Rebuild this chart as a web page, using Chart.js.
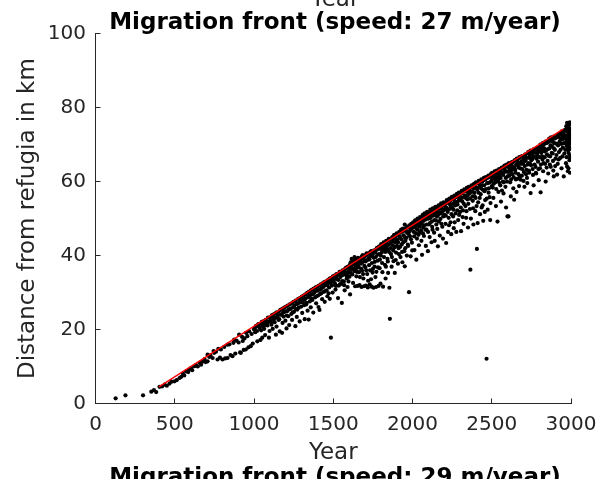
<!DOCTYPE html>
<html>
<head>
<meta charset="utf-8">
<script src="https://cdn.jsdelivr.net/npm/chart.js@4.4.1/dist/chart.umd.min.js"></script>
<style>
  body { margin: 0; background: #fff; }
  #wrap { position: relative; width: 611px; height: 479px; overflow: hidden; }
  .txt { position: absolute; left: 0; width: 670px; text-align: center; font-family: "DejaVu Sans", sans-serif;
         font-size: 23px; line-height: 23px; white-space: nowrap; }
  #prevLabel { top: -13.5px; color: #262626; }
  #title { top: 10px; font-weight: bold; color: #000; }
  #nextTitle { top: 465px; font-weight: bold; color: #000; }
</style>
</head>
<body>
<div id="wrap">
  <canvas id="frontChart"></canvas>
  <div class="txt" id="prevLabel">Year</div>
  <div class="txt" id="title">Migration front (speed: 27 m/year)</div>
  <div class="txt" id="nextTitle">Migration front (speed: 29 m/year)</div>
</div>
<script>
// assi
const xTicks = [0, 500, 1000, 1500, 2000, 2500, 3000];
const yTicks = [0, 20, 40, 60, 80, 100];

// retta della velocità del fronte (27 m/anno)
const fitYears = [400, 2950];
const fitKm = [4.5, 74.2];

// punti del fronte, letti a occhio dal grafico, [anno, km]
const front0to1000 = [
  [127,1.4],[189,2.2],[300,2.2],[352,3.2],[369,3.6],[383,3.1],[404,4.5],[420,4.6],[436,5.1],[450,4.8],
  [467,5.4],[480,5.9],[498,6.0],[512,6.3],[530,6.9],[541,7.2],[551,8.1],[560,7.6],[572,8.7],[585,8.5],
  [590,9.2],[603,9.6],[610,9.0],[624,10.1],[635,10.4],[645,10.0],[658,11.0],[666,10.5],[675,11.3],[688,12.0],
  [695,11.2],[707,11.4],[707,13.2],[718,12.6],[725,13.0],[739,12.3],[745,14.2],[749,13.7],[760,14.0],[770,11.9],
  [775,14.8],[785,12.4],[791,14.6],[801,11.9],[812,15.3],[818,12.2],[833,12.3],[833,15.9],[845,16.0],[852,13.1],
  [864,12.8],[870,16.4],[875,17.3],[882,13.5],[890,17.0],[903,16.5],[906,18.6],[912,13.8],[917,13.7],[925,18.0],
  [929,16.9],[935,14.5],[940,17.6],[948,14.6],[950,19.1],[958,18.2],[965,15.2],[970,19.5],[979,15.5],[985,18.8],
  [992,16.2],[1000,20.0]
];
const front1000to1500 = [
  [1008,19.3],[1015,20.8],[1021,16.8],[1031,20.9],[1041,17.2],[1045,19.8],[1052,17.8],[1058,21.5],[1064,20.2],[1070,18.5],
  [1078,22.0],[1085,21.1],[1094,17.8],[1098,19.6],[1105,22.5],[1110,21.3],[1118,20.2],[1125,23.2],[1130,22.0],[1138,18.6],
  [1142,20.8],[1150,23.7],[1155,22.6],[1162,19.5],[1170,24.1],[1177,19.1],[1180,21.8],[1186,23.5],[1192,24.8],[1198,22.4],
  [1205,20.3],[1210,25.0],[1216,23.6],[1222,21.2],[1228,25.6],[1235,24.2],[1240,22.6],[1246,26.0],[1252,24.8],[1261,20.9],
  [1265,25.5],[1270,23.4],[1276,27.0],[1282,25.9],[1288,22.2],[1293,27.4],[1298,26.2],[1304,24.5],[1310,28.0],[1316,26.6],
  [1320,22.8],[1326,28.4],[1332,27.2],[1338,25.1],[1345,22.7],[1348,28.9],[1352,27.6],[1358,26.0],[1364,29.5],[1368,28.0],
  [1374,24.6],[1380,30.0],[1386,28.7],[1392,27.1],[1398,30.5],[1404,29.2],[1407,26.1],[1413,25.3],[1418,30.8],[1424,29.8],
  [1430,28.2],[1436,31.5],[1440,30.2],[1446,27.5],[1452,32.0],[1458,30.6],[1463,29.0],[1468,32.6],[1474,31.4],[1478,28.3],
  [1485,17.8],[1488,33.2],[1492,31.9],[1496,30.0],
  [1004,20.3],[1013,21.0],[1019,19.6],[1027,21.5],[1036,20.4],[1043,21.6],[1049,22.1],[1055,20.9],[1062,22.3],[1067,21.2],
  [1074,22.6],[1082,21.8],[1088,23.2],[1093,22.1],[1101,23.3],[1107,22.0],[1114,23.9],[1121,22.8],[1127,24.2],[1134,23.1],
  [1140,24.6],[1146,23.5],[1153,24.8],[1159,22.8],[1166,25.3],[1173,24.0],[1178,25.6],[1184,24.6],[1190,25.9],[1196,24.9],
  [1202,26.2],[1207,23.8],[1213,26.5],[1219,25.4],[1225,26.8],[1231,25.6],[1237,27.1],[1243,24.6],[1249,27.5],[1255,26.4],
  [1262,27.8],[1268,26.9],[1273,25.4],[1279,28.3],[1285,27.3],[1291,28.6],[1296,27.7],[1302,28.9],[1307,27.4],[1313,29.2],
  [1318,28.1],[1324,29.5],[1329,26.8],[1335,29.9],[1341,28.8],[1346,30.2],[1351,29.2],[1357,30.5],[1362,28.4],[1367,30.8],
  [1372,29.6],[1377,31.1],[1383,30.2],[1389,31.4],[1394,29.0],[1400,31.6],[1405,30.6],[1410,31.9],[1416,29.6],[1421,32.2],
  [1427,31.2],[1433,32.5],[1438,31.6],[1443,32.8],[1449,30.4],[1455,33.0],[1460,32.0],[1466,33.4],[1471,29.8],[1477,33.8],
  [1482,32.6],[1487,34.0],[1494,33.0],[1498,34.4]
];
const front1500to2000 = [
  [1505,34.0],[1510,32.5],[1514,30.8],[1520,35.0],[1525,33.6],[1530,28.5],[1535,31.9],[1540,35.6],[1545,34.2],[1550,32.4],
  [1554,27.2],[1558,36.0],[1562,34.8],[1567,33.0],[1572,30.6],[1576,36.5],[1580,35.4],[1585,33.8],[1590,31.5],[1594,37.0],
  [1598,35.9],[1602,34.3],[1606,29.5],[1610,38.2],[1614,36.4],[1616,39.1],[1620,34.9],[1625,32.6],[1630,37.6],[1634,39.6],
  [1638,31.7],[1642,36.2],[1646,34.4],[1650,38.4],[1654,31.8],[1658,37.0],[1662,35.5],[1666,32.0],[1670,39.2],[1674,37.8],
  [1678,31.5],[1682,35.9],[1686,40.1],[1690,33.8],[1694,31.7],[1698,38.6],[1702,36.8],[1706,31.9],[1710,40.6],[1714,35.0],
  [1718,31.4],[1722,39.3],[1726,37.4],[1730,32.2],[1734,41.0],[1738,33.6],[1742,31.6],[1746,39.8],[1750,36.4],[1754,31.3],
  [1758,41.4],[1762,38.3],[1766,34.2],[1770,31.5],[1774,42.0],[1778,40.2],[1782,36.8],[1786,31.8],[1790,42.5],[1794,38.9],
  [1798,32.4],[1802,43.1],[1806,40.9],[1810,35.5],[1814,31.6],[1818,43.6],[1822,41.8],[1826,37.5],[1830,33.8],[1834,44.0],
  [1838,42.4],[1842,39.1],[1846,35.3],[1850,44.5],[1854,31.3],[1857,22.9],[1860,43.2],[1864,40.4],[1868,37.0],[1872,45.0],
  [1876,42.8],[1880,38.5],[1884,45.6],[1888,35.3],[1892,43.6],[1896,40.8],[1900,46.0],[1904,44.3],[1908,37.8],[1912,42.0],
  [1916,46.4],[1920,44.9],[1924,39.6],[1928,47.0],[1932,43.0],[1936,38.2],[1940,47.3],[1944,45.5],[1948,41.2],[1951,37.1],
  [1951,48.4],[1955,44.0],[1960,46.6],[1964,40.0],[1968,47.8],[1972,42.6],[1978,30.1],[1980,48.2],[1984,45.2],[1988,39.8],
  [1992,48.6],[1996,43.5],
  [1503,33.2],[1508,34.6],[1512,33.9],[1517,31.8],[1522,34.5],[1527,35.0],[1532,33.4],[1537,34.8],[1542,32.2],[1547,35.5],
  [1551,34.6],[1556,33.1],[1560,35.9],[1565,35.0],[1569,32.0],[1574,35.6],[1578,36.6],[1583,34.6],[1587,36.9],[1592,35.2],
  [1596,33.0],[1600,36.6],[1604,37.5],[1608,35.4],[1612,37.0],[1618,38.1],[1622,36.4],[1627,38.6],[1632,35.8],[1636,38.0],
  [1640,37.0],[1644,39.0],[1648,35.6],[1652,37.8],[1656,39.4],[1660,36.8],[1664,38.4],[1668,34.2],[1672,38.9],[1676,36.4],
  [1680,39.8],[1684,38.2],[1688,35.0],[1692,39.2],[1696,37.2],[1700,39.9],[1704,38.4],[1708,36.0],[1712,40.2],[1716,38.8],
  [1720,33.2],[1724,40.6],[1728,39.0],[1732,36.0],[1736,40.0],[1740,41.2],[1744,38.0],[1748,35.4],[1752,40.6],[1756,39.4],
  [1760,37.0],[1764,41.0],[1768,39.6],[1772,35.6],[1776,41.6],[1780,38.6],[1784,42.2],[1788,40.4],[1792,36.6],[1796,41.8],
  [1800,40.0],[1804,42.0],[1808,38.0],[1812,41.6],[1816,42.6],[1820,39.6],[1824,43.0],[1828,41.0],[1832,37.0],[1836,43.4],
  [1840,41.6],[1844,38.4],[1848,43.0],[1852,41.0],[1856,44.0],[1862,42.0],[1866,44.4],[1870,39.6],[1874,43.8],[1878,41.4],
  [1882,44.6],[1886,42.2],[1890,45.0],[1894,38.8],[1898,44.2],[1902,42.6],[1906,45.6],[1910,43.6],[1914,40.4],[1918,45.2],
  [1922,42.4],[1926,46.2],[1930,44.4],[1934,41.0],[1938,46.6],[1942,43.6],[1946,46.8],[1950,45.0],[1954,42.0],[1958,47.4],
  [1962,44.8],[1966,46.2],[1970,43.0],[1974,47.6],[1976,45.8],[1982,46.6],[1986,48.0],[1990,44.4],[1994,47.2],[1998,41.4]
];
const front2000to2500 = [
  [2004,49.0],[2008,46.4],[2012,41.5],[2016,49.5],[2020,47.5],[2024,38.9],[2028,44.6],[2032,50.0],[2036,48.2],[2040,42.8],
  [2044,46.2],[2048,50.4],[2052,49.0],[2056,44.0],[2060,40.2],[2064,51.0],[2068,47.6],[2072,45.3],[2076,51.4],[2080,49.8],
  [2084,42.6],[2088,47.0],[2092,51.8],[2097,41.2],[2100,50.4],[2104,48.4],[2108,45.0],[2112,52.4],[2116,50.9],[2120,43.6],
  [2124,47.8],[2128,52.8],[2132,51.2],[2136,46.2],[2140,44.0],[2144,53.2],[2148,49.5],[2152,52.0],[2156,47.2],[2160,42.5],
  [2164,53.6],[2168,51.6],[2172,45.4],[2176,49.9],[2180,54.1],[2184,52.6],[2188,47.8],[2192,44.6],[2196,54.4],[2200,51.0],
  [2204,53.4],[2208,48.6],[2212,43.4],[2216,55.0],[2220,52.4],[2224,46.4],[2228,50.2],[2232,55.4],[2236,53.8],[2240,49.0],
  [2244,45.8],[2248,55.9],[2252,52.9],[2256,50.6],[2260,47.4],[2264,56.2],[2268,54.6],[2272,51.4],[2276,46.4],[2280,56.7],
  [2284,53.8],[2288,49.6],[2292,57.0],[2296,55.3],[2300,51.8],[2306,46.6],[2310,57.5],[2314,54.6],[2318,52.2],[2322,48.6],
  [2326,57.9],[2330,56.2],[2334,53.4],[2338,50.2],[2342,58.3],[2346,55.2],[2350,47.6],[2354,58.6],[2358,56.8],[2362,52.6],
  [2365,36.2],[2368,50.0],[2372,59.0],[2376,57.4],[2380,54.8],[2384,48.4],[2388,59.4],[2392,56.0],[2396,52.0],[2400,59.8],
  [2406,41.8],[2408,57.8],[2411,48.8],[2414,54.4],[2418,60.2],[2422,58.6],[2426,51.2],[2430,56.6],[2434,60.6],[2438,59.0],
  [2442,53.6],[2446,49.4],[2450,61.0],[2454,57.4],[2458,55.0],[2462,61.2],[2467,12.1],[2470,59.6],[2474,52.4],[2478,61.6],
  [2482,58.2],[2486,55.8],[2490,49.6],[2494,62.0],[2498,60.2],
  [2002,47.6],[2006,48.4],[2010,45.2],[2014,47.8],[2018,49.0],[2022,46.0],[2026,48.6],[2030,47.0],[2034,49.4],[2038,45.6],
  [2042,49.0],[2046,47.8],[2050,49.8],[2054,46.8],[2058,48.6],[2062,50.2],[2066,46.0],[2070,49.4],[2074,48.2],[2078,50.6],
  [2082,47.0],[2086,49.8],[2090,48.4],[2094,51.2],[2098,46.4],[2102,50.0],[2106,51.4],[2110,48.8],[2114,50.2],[2118,51.8],
  [2122,49.2],[2126,47.0],[2130,50.8],[2134,52.0],[2138,49.6],[2142,51.2],[2146,52.6],[2150,48.4],[2154,50.6],[2158,52.8],
  [2162,51.0],[2166,49.2],[2170,52.6],[2174,53.2],[2178,51.4],[2182,48.6],[2186,53.4],[2190,52.0],[2194,50.6],[2198,53.8],
  [2202,52.4],[2206,54.0],[2210,50.8],[2214,53.0],[2218,54.4],[2222,51.8],[2226,54.2],[2230,48.2],[2234,52.6],[2238,54.8],
  [2242,53.2],[2246,51.2],[2250,55.2],[2254,54.0],[2258,52.4],[2262,55.4],[2266,49.0],[2270,53.6],[2274,55.8],[2278,54.4],
  [2282,52.2],[2286,56.0],[2290,54.8],[2294,51.0],[2298,56.4],[2302,55.0],[2304,53.0],[2308,56.8],[2312,55.6],[2316,50.4],
  [2320,57.2],[2324,54.0],[2328,56.0],[2332,57.6],[2336,55.6],[2340,52.0],[2344,57.2],[2348,56.2],[2352,54.0],[2356,57.6],
  [2360,58.2],[2364,55.4],[2370,57.2],[2374,58.6],[2378,56.0],[2382,52.8],[2386,58.2],[2390,57.0],[2394,59.2],[2398,55.6],
  [2402,58.4],[2404,53.4],[2410,59.6],[2416,57.0],[2420,59.4],[2424,55.6],[2428,60.0],[2432,58.2],[2436,53.0],[2440,60.0],
  [2444,57.8],[2448,60.4],[2452,59.0],[2456,51.8],[2460,60.6],[2464,58.0],[2468,55.4],[2472,61.0],[2476,59.6],[2480,57.0],
  [2484,61.2],[2488,59.8],[2492,54.2],[2496,61.4],[2500,58.8]
];
const front2500to3000 = [
  [2502,62.4],[2506,58.4],[2510,55.6],[2514,61.0],[2518,62.8],[2522,59.8],[2526,53.4],[2530,63.0],[2536,49.2],[2538,60.8],
  [2542,57.2],[2546,63.4],[2550,61.8],[2554,59.0],[2558,54.6],[2562,63.8],[2566,62.2],[2570,60.0],[2574,56.8],[2578,64.2],
  [2582,62.6],[2586,58.6],[2590,53.0],[2594,64.6],[2599,50.6],[2600,61.4],[2605,50.6],[2608,65.0],[2612,63.4],[2616,59.8],
  [2620,56.0],[2624,65.2],[2628,62.0],[2632,64.0],[2636,58.2],[2641,55.1],[2644,65.6],[2648,63.2],[2652,60.6],[2656,57.2],
  [2660,66.0],[2664,64.4],[2668,62.0],[2672,58.8],[2676,66.4],[2680,63.6],[2682,60.5],[2686,65.4],[2690,61.6],[2694,66.8],
  [2698,64.8],[2702,62.6],[2706,58.6],[2710,67.2],[2714,65.6],[2718,63.2],[2722,61.0],[2724,59.6],[2728,67.6],[2732,65.0],
  [2736,62.4],[2740,67.0],[2745,56.9],[2748,64.4],[2752,68.0],[2756,66.2],[2760,61.8],[2764,59.0],[2768,68.4],[2772,66.6],
  [2776,64.0],[2780,62.2],[2784,68.8],[2788,67.0],[2792,65.4],[2796,60.4],[2800,69.2],[2804,63.6],[2808,57.1],[2812,67.8],
  [2816,69.6],[2820,66.0],[2824,62.8],[2828,70.0],[2832,68.2],[2836,64.8],[2840,60.0],[2844,70.4],[2848,67.4],[2852,65.6],
  [2856,62.2],[2860,70.8],[2864,69.0],[2868,66.8],[2872,64.0],[2876,71.2],[2880,69.6],[2884,67.6],[2888,63.0],[2891,61.4],
  [2894,71.6],[2898,68.6],[2902,66.2],[2906,72.0],[2910,70.2],[2912,61.9],[2916,64.8],[2920,72.4],[2924,68.0],[2928,70.8],
  [2932,66.4],[2936,72.8],[2940,63.6],[2944,71.4],[2948,69.2],[2952,73.2],[2954,61.4],[2958,67.6],[2962,74.0],[2965,71.6],
  [2968,65.0],[2970,75.0],[2972,69.6],[2975,75.9],[2975,64.1],[2975,70.0],[2978,73.4],[2980,62.8],[2982,72.0],[2984,67.8],
  [2986,74.6],[2988,70.8],[2990,65.8],[2990,73.0],[2992,68.8],[2992,76.0],[2994,71.6],
  [2504,61.0],[2508,62.0],[2512,59.4],[2516,61.6],[2520,60.6],[2524,62.6],[2528,58.0],[2532,61.4],[2534,62.2],[2540,60.2],
  [2544,62.6],[2548,59.6],[2552,63.2],[2556,61.0],[2560,62.6],[2564,57.6],[2568,63.6],[2572,61.8],[2576,59.8],[2580,63.4],
  [2584,64.4],[2588,61.0],[2592,62.8],[2596,60.0],[2598,64.0],[2602,62.6],[2606,64.8],[2610,61.6],[2614,64.2],[2618,62.6],
  [2622,60.6],[2626,64.8],[2630,63.2],[2634,65.4],[2638,61.2],[2642,63.8],[2646,65.8],[2650,62.4],[2654,64.6],[2658,66.2],
  [2662,60.8],[2666,65.2],[2670,63.8],[2674,66.6],[2678,61.4],[2684,64.8],[2688,66.8],[2692,63.4],[2696,65.6],[2700,60.2],
  [2704,66.2],[2708,64.2],[2712,67.4],[2716,62.0],[2720,66.4],[2726,64.6],[2730,68.0],[2734,63.0],[2738,66.4],[2742,64.8],
  [2744,68.4],[2750,65.8],[2754,67.6],[2758,63.4],[2762,66.8],[2766,68.8],[2770,64.6],[2774,67.8],[2778,62.4],[2782,66.2],
  [2786,69.2],[2790,67.8],[2794,63.4],[2798,68.4],[2802,66.6],[2806,70.0],[2810,64.6],[2814,68.6],[2818,66.8],[2822,70.4],
  [2826,65.0],[2830,69.0],[2834,66.6],[2838,70.8],[2842,68.4],[2846,63.8],[2850,70.6],[2854,68.8],[2858,67.0],[2862,71.6],
  [2866,64.6],[2870,69.8],[2874,72.0],[2878,67.8],[2882,70.8],[2886,65.6],[2890,72.2],[2892,69.0],[2896,70.4],[2900,64.2],
  [2904,71.8],[2908,67.2],[2914,72.6],[2918,69.8],[2922,66.0],[2926,73.0],[2930,71.8],[2934,68.6],[2938,70.2],[2942,73.6],
  [2946,66.8],[2950,72.2],[2956,70.4],[2960,72.6],[2964,68.6],[2966,73.8],[2970,70.8],[2972,66.6],[2974,74.4],[2976,72.4],
  [2978,68.6],[2980,71.0],[2982,75.2],[2984,63.6],[2986,69.4],[2988,73.6],[2990,67.2],[2990,75.4],[2992,70.2],[2993,62.4],
  [2994,74.2],[2994,66.4],[2995,72.6],[2995,69.0]
];

const frontPoints = [].concat(front0to1000, front1000to1500, front1500to2000, front2000to2500, front2500to3000)
  .map(p => ({ x: p[0], y: p[1] }));
const fitLine = fitYears.map((yr, i) => ({ x: yr, y: fitKm[i] }));

const axisColor = '#262626';
const font = { family: '"DejaVu Sans", sans-serif', size: 20 };
const labelFont = { family: '"DejaVu Sans", sans-serif', size: 23 };

new Chart(document.getElementById('frontChart'), {
  type: 'scatter',
  data: {
    datasets: [
      {
        type: 'line',
        data: fitLine,
        borderColor: '#ff0000',
        borderWidth: 1.3,
        pointRadius: 0,
        fill: false,
        order: 0
      },
      {
        data: frontPoints,
        backgroundColor: '#000',
        borderWidth: 0,
        pointRadius: 2.1,
        order: 1
      }
    ]
  },
  options: {
    responsive: true,
    maintainAspectRatio: false,
    animation: false,
    layout: { padding: { top: 33.7, right: 37, bottom: 12.2, left: 0 } },
    plugins: { legend: { display: false }, tooltip: { enabled: false } },
    scales: {
      x: {
        type: 'linear',
        min: 0,
        max: 3000,
        afterFit: s => { s.height = 63.3; },
        afterBuildTicks: s => { s.ticks = xTicks.map(v => ({ value: v })); },
        border: { color: axisColor, width: 1 },
        grid: { drawOnChartArea: false, drawTicks: true, tickLength: -5, color: axisColor },
        ticks: { color: axisColor, font: font, padding: 14.5, maxRotation: 0, callback: v => String(v) },
        title: { display: true, text: 'Year', color: axisColor, font: labelFont, padding: 0 }
      },
      y: {
        type: 'linear',
        min: 0,
        max: 100,
        afterFit: s => { s.width = 95.5; },
        afterBuildTicks: s => { s.ticks = yTicks.map(v => ({ value: v })); },
        border: { color: axisColor, width: 1 },
        grid: { drawOnChartArea: false, drawTicks: true, tickLength: -5, color: axisColor },
        ticks: { color: axisColor, font: font, padding: 14.5, callback: v => String(v) },
        title: { display: true, text: 'Distance from refugia in km', color: axisColor, font: labelFont, padding: { top: 14, bottom: 0 } }
      }
    }
  }
});
</script>
</body>
</html>
